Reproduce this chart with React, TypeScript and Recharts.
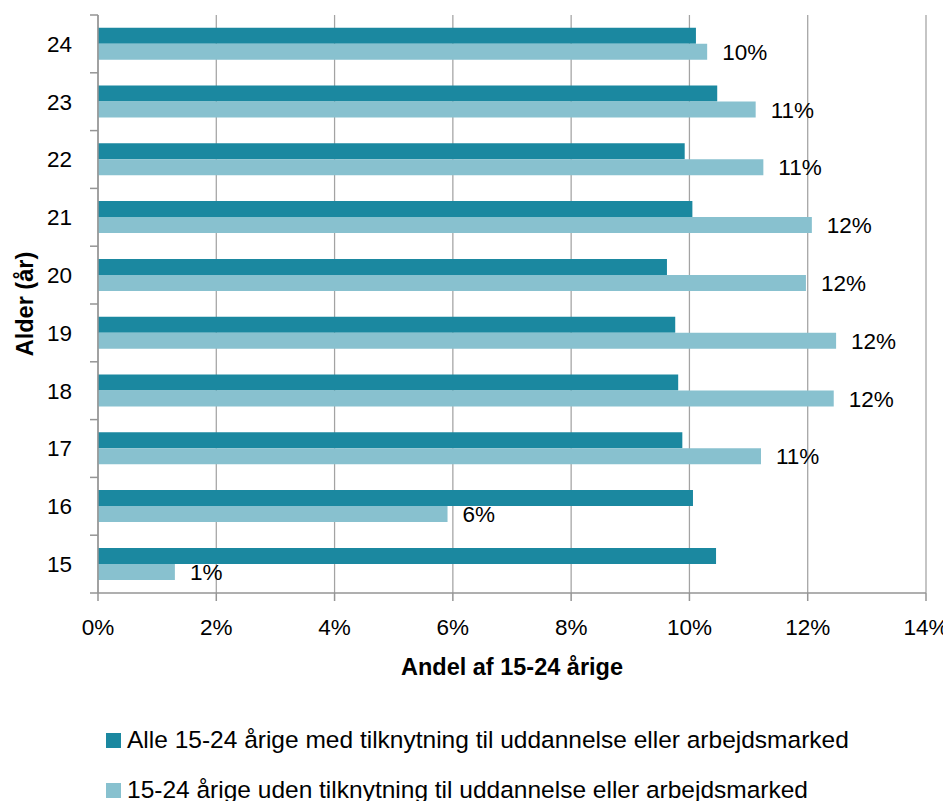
import React from 'react';
import { BarChart, Bar, XAxis, YAxis, CartesianGrid, Legend, LabelList, Label } from 'recharts';

const ages = ['24', '23', '22', '21', '20', '19', '18', '17', '16', '15'];
const withAttachment = [10.11, 10.47, 9.92, 10.05, 9.62, 9.76, 9.81, 9.88, 10.06, 10.45];
const withoutAttachment = [10.3, 11.12, 11.25, 12.07, 11.97, 12.48, 12.44, 11.21, 5.91, 1.3];
const xTicks = [0, 2, 4, 6, 8, 10, 12, 14];
const seriesKeys = ['with', 'without'];
const seriesNames = [
  'Alle 15-24 årige med tilknytning til uddannelse eller arbejdsmarked',
  '15-24 årige uden tilknytning til uddannelse eller arbejdsmarked',
];
const xTitle = 'Andel af 15-24 årige';
const yTitle = 'Alder (år)';

const data = ages.map((age, i) => ({
  age,
  with: withAttachment[i],
  without: withoutAttachment[i],
}));

const FONT = "'Liberation Sans', Arial, sans-serif";
const DARK = '#1B88A0';
const LIGHT = '#88C1CF';
const GRID = '#A3A3A3';
const AXIS = '#959595';

const CHART_W = 943;
const CHART_H = 793;
const MARGIN = { top: 7, right: 25, left: 0, bottom: 0 };
const Y_W = 90;
const X_H = 100;
const LEGEND_H = 108;
const PLOT_H = CHART_H - MARGIN.top - MARGIN.bottom - X_H - LEGEND_H;
const BAND = PLOT_H / ages.length;

const YTick = (props: any) => {
  const { x, y, payload, index, visibleTicksCount } = props;
  const axisX = x + 26;
  const half = BAND / 2;
  return (
    <g>
      <text x={x} y={y} dy="0.355em" textAnchor="end" fill="#000" fontSize={22.5} fontFamily={FONT}>
        {payload.value}
      </text>
      <line x1={axisX - 8} x2={axisX} y1={y - half} y2={y - half} stroke={AXIS} strokeWidth={1.5} />
      {index === visibleTicksCount - 1 && (
        <line x1={axisX - 8} x2={axisX} y1={y + half} y2={y + half} stroke={AXIS} strokeWidth={1.5} />
      )}
    </g>
  );
};

const XTitle = (props: any) => {
  const vb = props.viewBox || { x: 0, y: 0, width: 0, height: 0 };
  return (
    <text x={vb.x + vb.width / 2} y={vb.y + 82} textAnchor="middle" fill="#000" fontSize={23.5} fontWeight="bold" fontFamily={FONT}>
      {xTitle}
    </text>
  );
};

const YTitle = (props: any) => {
  const vb = props.viewBox || { x: 0, y: 0, width: 0, height: 0 };
  const cx = vb.x + 17;
  const cy = vb.y + vb.height / 2;
  return (
    <text
      x={cx}
      y={cy}
      transform={`rotate(-90, ${cx}, ${cy})`}
      textAnchor="middle"
      dominantBaseline="central"
      fill="#000"
      fontSize={23.5}
      fontWeight="bold"
      fontFamily={FONT}
    >
      {yTitle}
    </text>
  );
};

const renderLegend = (props: any) => {
  const payload = [...(props.payload || [])].sort(
    (a: any, b: any) => seriesKeys.indexOf(a.dataKey) - seriesKeys.indexOf(b.dataKey)
  );
  return (
    <div style={{ position: 'relative', width: CHART_W, height: LEGEND_H, fontFamily: FONT, fontSize: 24.5 }}>
      {payload.map((entry: any, i: number) => (
        <div
          key={i}
          style={{
            position: 'absolute',
            left: 98,
            top: 32 + i * 50,
            height: 30,
            display: 'flex',
            alignItems: 'center',
            whiteSpace: 'nowrap',
          }}
        >
          <span style={{ display: 'inline-block', width: 15, height: 15, background: entry.color, marginRight: 6 }} />
          <span style={{ lineHeight: '30px', color: '#000' }}>{entry.value}</span>
        </div>
      ))}
    </div>
  );
};

export default function App() {
  return (
    <>
      <style>{'html, body { overflow: hidden; }'}</style>
      <BarChart
        width={CHART_W}
        height={CHART_H}
        data={data}
        layout="vertical"
        margin={MARGIN}
        barCategoryGap="22%"
        barGap={0}
      >
        <CartesianGrid horizontal={false} stroke={GRID} strokeWidth={1.25} />
        <XAxis
          type="number"
          domain={[0, 14]}
          ticks={xTicks}
          tickFormatter={(v: number) => `${v}%`}
          height={X_H}
          tickSize={8}
          tickMargin={18.5}
          axisLine={{ stroke: AXIS, strokeWidth: 1.5 }}
          tickLine={{ stroke: AXIS, strokeWidth: 1.5 }}
          tick={{ fill: '#000', fontSize: 22.5, fontFamily: FONT }}
          interval={0}
        >
          <Label content={<XTitle />} />
        </XAxis>
        <YAxis
          type="category"
          dataKey="age"
          width={Y_W}
          tickSize={8}
          tickMargin={18}
          tickLine={false}
          axisLine={{ stroke: AXIS, strokeWidth: 1.5 }}
          tick={<YTick />}
          interval={0}
        >
          <Label content={<YTitle />} />
        </YAxis>
        <Legend
          verticalAlign="bottom"
          align="left"
          layout="horizontal"
          content={renderLegend}
          wrapperStyle={{ left: 0, top: CHART_H - LEGEND_H, bottom: 'auto', width: CHART_W, height: LEGEND_H }}
        />
        <Bar dataKey="with" name={seriesNames[0]} fill={DARK} isAnimationActive={false} />
        <Bar dataKey="without" name={seriesNames[1]} fill={LIGHT} isAnimationActive={false}>
          <LabelList
            dataKey="without"
            position="right"
            offset={15}
            formatter={(v: any) => `${Math.round(Number(v))}%`}
            fill="#000"
            fontSize={22.5}
            fontFamily={FONT}
          />
        </Bar>
      </BarChart>
    </>
  );
}
